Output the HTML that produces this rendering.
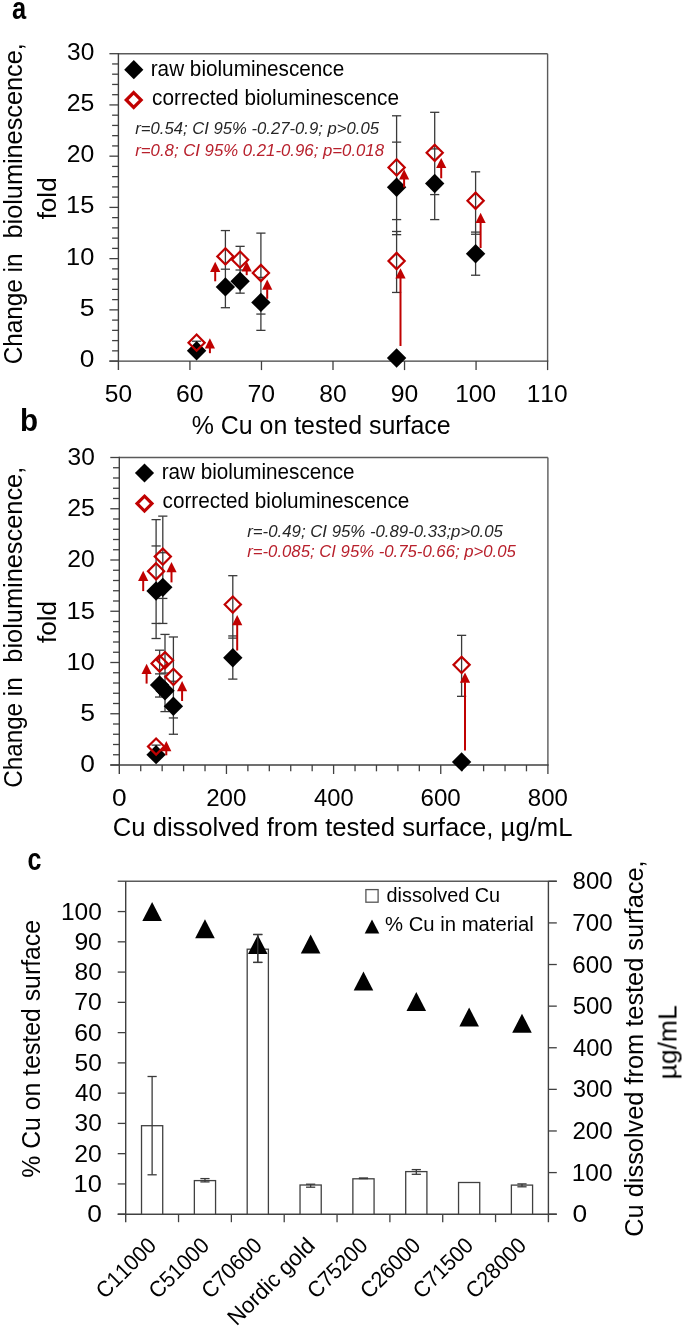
<!DOCTYPE html>
<html><head><meta charset="utf-8"><style>
html,body{margin:0;padding:0;background:#fff;overflow:hidden;width:685px;height:1328px;}
svg{display:block;}
text{font-family:"Liberation Sans", sans-serif;font-kerning:none;white-space:pre;}
</style></head><body>
<svg xml:space="preserve" width="685" height="1328" viewBox="0 0 685 1328">
<rect width="685" height="1328" fill="#fff"/>
<g opacity="0.999">
<line x1="118.40" y1="53.70" x2="547.60" y2="53.70" stroke="#5a5a5a" stroke-width="1.4"/>
<line x1="547.60" y1="53.70" x2="547.60" y2="361.10" stroke="#5a5a5a" stroke-width="1.4"/>
<line x1="118.40" y1="53.00" x2="118.40" y2="370.10" stroke="#404040" stroke-width="1.4"/>
<line x1="109.40" y1="361.10" x2="548.30" y2="361.10" stroke="#404040" stroke-width="1.4"/>
<line x1="109.40" y1="361.10" x2="118.40" y2="361.10" stroke="#404040" stroke-width="1.3"/>
<line x1="112.10" y1="350.85" x2="118.40" y2="350.85" stroke="#404040" stroke-width="1.3"/>
<line x1="112.10" y1="340.61" x2="118.40" y2="340.61" stroke="#404040" stroke-width="1.3"/>
<line x1="112.10" y1="330.36" x2="118.40" y2="330.36" stroke="#404040" stroke-width="1.3"/>
<line x1="112.10" y1="320.11" x2="118.40" y2="320.11" stroke="#404040" stroke-width="1.3"/>
<line x1="109.40" y1="309.87" x2="118.40" y2="309.87" stroke="#404040" stroke-width="1.3"/>
<line x1="112.10" y1="299.62" x2="118.40" y2="299.62" stroke="#404040" stroke-width="1.3"/>
<line x1="112.10" y1="289.37" x2="118.40" y2="289.37" stroke="#404040" stroke-width="1.3"/>
<line x1="112.10" y1="279.13" x2="118.40" y2="279.13" stroke="#404040" stroke-width="1.3"/>
<line x1="112.10" y1="268.88" x2="118.40" y2="268.88" stroke="#404040" stroke-width="1.3"/>
<line x1="109.40" y1="258.63" x2="118.40" y2="258.63" stroke="#404040" stroke-width="1.3"/>
<line x1="112.10" y1="248.39" x2="118.40" y2="248.39" stroke="#404040" stroke-width="1.3"/>
<line x1="112.10" y1="238.14" x2="118.40" y2="238.14" stroke="#404040" stroke-width="1.3"/>
<line x1="112.10" y1="227.89" x2="118.40" y2="227.89" stroke="#404040" stroke-width="1.3"/>
<line x1="112.10" y1="217.65" x2="118.40" y2="217.65" stroke="#404040" stroke-width="1.3"/>
<line x1="109.40" y1="207.40" x2="118.40" y2="207.40" stroke="#404040" stroke-width="1.3"/>
<line x1="112.10" y1="197.15" x2="118.40" y2="197.15" stroke="#404040" stroke-width="1.3"/>
<line x1="112.10" y1="186.91" x2="118.40" y2="186.91" stroke="#404040" stroke-width="1.3"/>
<line x1="112.10" y1="176.66" x2="118.40" y2="176.66" stroke="#404040" stroke-width="1.3"/>
<line x1="112.10" y1="166.41" x2="118.40" y2="166.41" stroke="#404040" stroke-width="1.3"/>
<line x1="109.40" y1="156.17" x2="118.40" y2="156.17" stroke="#404040" stroke-width="1.3"/>
<line x1="112.10" y1="145.92" x2="118.40" y2="145.92" stroke="#404040" stroke-width="1.3"/>
<line x1="112.10" y1="135.67" x2="118.40" y2="135.67" stroke="#404040" stroke-width="1.3"/>
<line x1="112.10" y1="125.43" x2="118.40" y2="125.43" stroke="#404040" stroke-width="1.3"/>
<line x1="112.10" y1="115.18" x2="118.40" y2="115.18" stroke="#404040" stroke-width="1.3"/>
<line x1="109.40" y1="104.93" x2="118.40" y2="104.93" stroke="#404040" stroke-width="1.3"/>
<line x1="112.10" y1="94.69" x2="118.40" y2="94.69" stroke="#404040" stroke-width="1.3"/>
<line x1="112.10" y1="84.44" x2="118.40" y2="84.44" stroke="#404040" stroke-width="1.3"/>
<line x1="112.10" y1="74.19" x2="118.40" y2="74.19" stroke="#404040" stroke-width="1.3"/>
<line x1="112.10" y1="63.95" x2="118.40" y2="63.95" stroke="#404040" stroke-width="1.3"/>
<line x1="109.40" y1="53.70" x2="118.40" y2="53.70" stroke="#404040" stroke-width="1.3"/>
<line x1="189.93" y1="361.10" x2="189.93" y2="370.10" stroke="#404040" stroke-width="1.3"/>
<line x1="261.47" y1="361.10" x2="261.47" y2="370.10" stroke="#404040" stroke-width="1.3"/>
<line x1="333.00" y1="361.10" x2="333.00" y2="370.10" stroke="#404040" stroke-width="1.3"/>
<line x1="404.53" y1="361.10" x2="404.53" y2="370.10" stroke="#404040" stroke-width="1.3"/>
<line x1="476.07" y1="361.10" x2="476.07" y2="370.10" stroke="#404040" stroke-width="1.3"/>
<line x1="547.60" y1="361.10" x2="547.60" y2="370.10" stroke="#404040" stroke-width="1.3"/>
<line x1="119.30" y1="457.50" x2="547.90" y2="457.50" stroke="#5a5a5a" stroke-width="1.4"/>
<line x1="547.90" y1="457.50" x2="547.90" y2="765.00" stroke="#5a5a5a" stroke-width="1.4"/>
<line x1="119.30" y1="456.80" x2="119.30" y2="774.00" stroke="#404040" stroke-width="1.4"/>
<line x1="110.30" y1="765.00" x2="548.60" y2="765.00" stroke="#404040" stroke-width="1.4"/>
<line x1="110.30" y1="765.00" x2="119.30" y2="765.00" stroke="#404040" stroke-width="1.3"/>
<line x1="113.00" y1="754.75" x2="119.30" y2="754.75" stroke="#404040" stroke-width="1.3"/>
<line x1="113.00" y1="744.50" x2="119.30" y2="744.50" stroke="#404040" stroke-width="1.3"/>
<line x1="113.00" y1="734.25" x2="119.30" y2="734.25" stroke="#404040" stroke-width="1.3"/>
<line x1="113.00" y1="724.00" x2="119.30" y2="724.00" stroke="#404040" stroke-width="1.3"/>
<line x1="110.30" y1="713.75" x2="119.30" y2="713.75" stroke="#404040" stroke-width="1.3"/>
<line x1="113.00" y1="703.50" x2="119.30" y2="703.50" stroke="#404040" stroke-width="1.3"/>
<line x1="113.00" y1="693.25" x2="119.30" y2="693.25" stroke="#404040" stroke-width="1.3"/>
<line x1="113.00" y1="683.00" x2="119.30" y2="683.00" stroke="#404040" stroke-width="1.3"/>
<line x1="113.00" y1="672.75" x2="119.30" y2="672.75" stroke="#404040" stroke-width="1.3"/>
<line x1="110.30" y1="662.50" x2="119.30" y2="662.50" stroke="#404040" stroke-width="1.3"/>
<line x1="113.00" y1="652.25" x2="119.30" y2="652.25" stroke="#404040" stroke-width="1.3"/>
<line x1="113.00" y1="642.00" x2="119.30" y2="642.00" stroke="#404040" stroke-width="1.3"/>
<line x1="113.00" y1="631.75" x2="119.30" y2="631.75" stroke="#404040" stroke-width="1.3"/>
<line x1="113.00" y1="621.50" x2="119.30" y2="621.50" stroke="#404040" stroke-width="1.3"/>
<line x1="110.30" y1="611.25" x2="119.30" y2="611.25" stroke="#404040" stroke-width="1.3"/>
<line x1="113.00" y1="601.00" x2="119.30" y2="601.00" stroke="#404040" stroke-width="1.3"/>
<line x1="113.00" y1="590.75" x2="119.30" y2="590.75" stroke="#404040" stroke-width="1.3"/>
<line x1="113.00" y1="580.50" x2="119.30" y2="580.50" stroke="#404040" stroke-width="1.3"/>
<line x1="113.00" y1="570.25" x2="119.30" y2="570.25" stroke="#404040" stroke-width="1.3"/>
<line x1="110.30" y1="560.00" x2="119.30" y2="560.00" stroke="#404040" stroke-width="1.3"/>
<line x1="113.00" y1="549.75" x2="119.30" y2="549.75" stroke="#404040" stroke-width="1.3"/>
<line x1="113.00" y1="539.50" x2="119.30" y2="539.50" stroke="#404040" stroke-width="1.3"/>
<line x1="113.00" y1="529.25" x2="119.30" y2="529.25" stroke="#404040" stroke-width="1.3"/>
<line x1="113.00" y1="519.00" x2="119.30" y2="519.00" stroke="#404040" stroke-width="1.3"/>
<line x1="110.30" y1="508.75" x2="119.30" y2="508.75" stroke="#404040" stroke-width="1.3"/>
<line x1="113.00" y1="498.50" x2="119.30" y2="498.50" stroke="#404040" stroke-width="1.3"/>
<line x1="113.00" y1="488.25" x2="119.30" y2="488.25" stroke="#404040" stroke-width="1.3"/>
<line x1="113.00" y1="478.00" x2="119.30" y2="478.00" stroke="#404040" stroke-width="1.3"/>
<line x1="113.00" y1="467.75" x2="119.30" y2="467.75" stroke="#404040" stroke-width="1.3"/>
<line x1="110.30" y1="457.50" x2="119.30" y2="457.50" stroke="#404040" stroke-width="1.3"/>
<line x1="140.73" y1="765.00" x2="140.73" y2="771.30" stroke="#404040" stroke-width="1.3"/>
<line x1="162.16" y1="765.00" x2="162.16" y2="771.30" stroke="#404040" stroke-width="1.3"/>
<line x1="183.59" y1="765.00" x2="183.59" y2="771.30" stroke="#404040" stroke-width="1.3"/>
<line x1="205.02" y1="765.00" x2="205.02" y2="771.30" stroke="#404040" stroke-width="1.3"/>
<line x1="226.45" y1="765.00" x2="226.45" y2="774.00" stroke="#404040" stroke-width="1.3"/>
<line x1="247.88" y1="765.00" x2="247.88" y2="771.30" stroke="#404040" stroke-width="1.3"/>
<line x1="269.31" y1="765.00" x2="269.31" y2="771.30" stroke="#404040" stroke-width="1.3"/>
<line x1="290.74" y1="765.00" x2="290.74" y2="771.30" stroke="#404040" stroke-width="1.3"/>
<line x1="312.17" y1="765.00" x2="312.17" y2="771.30" stroke="#404040" stroke-width="1.3"/>
<line x1="333.60" y1="765.00" x2="333.60" y2="774.00" stroke="#404040" stroke-width="1.3"/>
<line x1="355.03" y1="765.00" x2="355.03" y2="771.30" stroke="#404040" stroke-width="1.3"/>
<line x1="376.46" y1="765.00" x2="376.46" y2="771.30" stroke="#404040" stroke-width="1.3"/>
<line x1="397.89" y1="765.00" x2="397.89" y2="771.30" stroke="#404040" stroke-width="1.3"/>
<line x1="419.32" y1="765.00" x2="419.32" y2="771.30" stroke="#404040" stroke-width="1.3"/>
<line x1="440.75" y1="765.00" x2="440.75" y2="774.00" stroke="#404040" stroke-width="1.3"/>
<line x1="462.18" y1="765.00" x2="462.18" y2="771.30" stroke="#404040" stroke-width="1.3"/>
<line x1="483.61" y1="765.00" x2="483.61" y2="771.30" stroke="#404040" stroke-width="1.3"/>
<line x1="505.04" y1="765.00" x2="505.04" y2="771.30" stroke="#404040" stroke-width="1.3"/>
<line x1="526.47" y1="765.00" x2="526.47" y2="771.30" stroke="#404040" stroke-width="1.3"/>
<line x1="547.90" y1="765.00" x2="547.90" y2="774.00" stroke="#404040" stroke-width="1.3"/>
<text transform="translate(79.77,367.10) scale(1.1361,1)" font-size="23.2" font-weight="normal" font-style="normal" fill="#000">0</text>
<text transform="translate(80.27,772.40) scale(1.1361,1)" font-size="23.2" font-weight="normal" font-style="normal" fill="#000">0</text>
<text transform="translate(79.74,315.87) scale(1.1455,1)" font-size="23.2" font-weight="normal" font-style="normal" fill="#000">5</text>
<text transform="translate(80.24,721.15) scale(1.1455,1)" font-size="23.2" font-weight="normal" font-style="normal" fill="#000">5</text>
<text transform="translate(66.11,264.63) scale(1.0959,1)" font-size="23.2" font-weight="normal" font-style="normal" fill="#000">10</text>
<text transform="translate(66.61,669.90) scale(1.0959,1)" font-size="23.2" font-weight="normal" font-style="normal" fill="#000">10</text>
<text transform="translate(66.11,213.40) scale(1.0991,1)" font-size="23.2" font-weight="normal" font-style="normal" fill="#000">15</text>
<text transform="translate(66.61,618.65) scale(1.0991,1)" font-size="23.2" font-weight="normal" font-style="normal" fill="#000">15</text>
<text transform="translate(66.80,162.17) scale(1.0682,1)" font-size="23.2" font-weight="normal" font-style="normal" fill="#000">20</text>
<text transform="translate(67.30,567.40) scale(1.0682,1)" font-size="23.2" font-weight="normal" font-style="normal" fill="#000">20</text>
<text transform="translate(66.80,110.93) scale(1.0712,1)" font-size="23.2" font-weight="normal" font-style="normal" fill="#000">25</text>
<text transform="translate(67.30,516.15) scale(1.0712,1)" font-size="23.2" font-weight="normal" font-style="normal" fill="#000">25</text>
<text transform="translate(67.12,59.70) scale(1.0556,1)" font-size="23.2" font-weight="normal" font-style="normal" fill="#000">30</text>
<text transform="translate(67.62,464.90) scale(1.0556,1)" font-size="23.2" font-weight="normal" font-style="normal" fill="#000">30</text>
<text transform="translate(104.74,401.80) scale(1.0576,1)" font-size="23.2" font-weight="normal" font-style="normal" fill="#000">50</text>
<text transform="translate(176.00,401.80) scale(1.0687,1)" font-size="23.2" font-weight="normal" font-style="normal" fill="#000">60</text>
<text transform="translate(247.52,401.80) scale(1.0692,1)" font-size="23.2" font-weight="normal" font-style="normal" fill="#000">70</text>
<text transform="translate(319.26,401.80) scale(1.0611,1)" font-size="23.2" font-weight="normal" font-style="normal" fill="#000">80</text>
<text transform="translate(390.70,401.80) scale(1.0646,1)" font-size="23.2" font-weight="normal" font-style="normal" fill="#000">90</text>
<text transform="translate(455.15,401.80) scale(1.0573,1)" font-size="23.2" font-weight="normal" font-style="normal" fill="#000">100</text>
<text transform="translate(526.68,401.80) scale(1.0573,1)" font-size="23.2" font-weight="normal" font-style="normal" fill="#000">110</text>
<text transform="translate(111.97,806.30) scale(1.1361,1)" font-size="23.2" font-weight="normal" font-style="normal" fill="#000">0</text>
<text transform="translate(206.19,806.30) scale(1.0400,1)" font-size="23.2" font-weight="normal" font-style="normal" fill="#000">200</text>
<text transform="translate(314.01,806.30) scale(1.0223,1)" font-size="23.2" font-weight="normal" font-style="normal" fill="#000">400</text>
<text transform="translate(420.47,806.30) scale(1.0403,1)" font-size="23.2" font-weight="normal" font-style="normal" fill="#000">600</text>
<text transform="translate(527.81,806.30) scale(1.0355,1)" font-size="23.2" font-weight="normal" font-style="normal" fill="#000">800</text>
<text transform="translate(191.71,433.60) scale(0.9895,1)" font-size="25.2" font-weight="normal" font-style="normal" fill="#000">% Cu on tested surface</text>
<text transform="translate(112.70,836.20) scale(1.0189,1)" font-size="25.2" font-weight="normal" font-style="normal" fill="#000">Cu dissolved from tested surface, µg/mL</text>
<text transform="translate(22.40,364.34) rotate(-90) scale(0.9654,1)" font-size="25.2" fill="#000">Change in</text>
<text transform="translate(22.40,238.53) rotate(-90) scale(1.0036,1)" font-size="25.2" fill="#000">bioluminescence,</text>
<text transform="translate(56.00,219.37) rotate(-90) scale(1.0350,1)" font-size="25.2" fill="#000">fold</text>
<text transform="translate(22.30,787.83) rotate(-90) scale(0.9627,1)" font-size="25.2" fill="#000">Change in</text>
<text transform="translate(22.30,662.64) rotate(-90) scale(1.0067,1)" font-size="25.2" fill="#000">bioluminescence,</text>
<text transform="translate(56.00,642.97) rotate(-90) scale(1.0350,1)" font-size="25.2" fill="#000">fold</text>
<text transform="translate(11.95,19.30) scale(0.7971,1)" font-size="32" font-weight="bold" font-style="normal" fill="#000">a</text>
<text transform="translate(19.95,430.50) scale(0.9240,1)" font-size="32" font-weight="bold" font-style="normal" fill="#000">b</text>
<text transform="translate(27.52,869.80) scale(0.7816,1)" font-size="32" font-weight="bold" font-style="normal" fill="#000">c</text>
<polygon points="133.80,60.10 143.40,69.70 133.80,79.30 124.20,69.70" fill="#000"/>
<polygon points="133.70,92.55 141.15,100.00 133.70,107.45 126.25,100.00" fill="none" stroke="#c00000" stroke-width="3.2" stroke-linejoin="miter"/>
<text transform="translate(150.72,75.70) scale(0.9598,1)" font-size="21.6" font-weight="normal" font-style="normal" fill="#000">raw bioluminescence</text>
<text transform="translate(152.12,104.50) scale(0.9614,1)" font-size="21.6" font-weight="normal" font-style="normal" fill="#000">corrected bioluminescence</text>
<polygon points="144.50,463.40 154.10,473.00 144.50,482.60 134.90,473.00" fill="#000"/>
<polygon points="144.50,496.15 151.95,503.60 144.50,511.05 137.05,503.60" fill="none" stroke="#c00000" stroke-width="3.2" stroke-linejoin="miter"/>
<text transform="translate(161.63,478.70) scale(0.9573,1)" font-size="21.6" font-weight="normal" font-style="normal" fill="#000">raw bioluminescence</text>
<text transform="translate(162.52,507.60) scale(0.9610,1)" font-size="21.6" font-weight="normal" font-style="normal" fill="#000">corrected bioluminescence</text>
<text transform="translate(135.22,133.80) scale(1.0432,1)" font-size="16.0" font-weight="normal" font-style="italic" fill="#262626">r=0.54; CI 95% -0.27-0.9; p&gt;0.05</text>
<text transform="translate(135.22,155.80) scale(1.0487,1)" font-size="16.0" font-weight="normal" font-style="italic" fill="#b8202c">r=0.8; CI 95% 0.21-0.96; p=0.018</text>
<text transform="translate(247.22,536.80) scale(1.0502,1)" font-size="16.0" font-weight="normal" font-style="italic" fill="#262626">r=-0.49; CI 95% -0.89-0.33;p&gt;0.05</text>
<text transform="translate(247.22,557.40) scale(1.0458,1)" font-size="16.0" font-weight="normal" font-style="italic" fill="#b8202c">r=-0.085; CI 95% -0.75-0.66; p&gt;0.05</text>
<line x1="196.60" y1="341.22" x2="196.60" y2="350.75" stroke="#3a3a3a" stroke-width="1.3"/>
<line x1="192.00" y1="341.22" x2="201.20" y2="341.22" stroke="#3a3a3a" stroke-width="1.3"/>
<line x1="225.40" y1="230.56" x2="225.40" y2="307.71" stroke="#3a3a3a" stroke-width="1.3"/>
<line x1="220.80" y1="230.56" x2="230.00" y2="230.56" stroke="#3a3a3a" stroke-width="1.3"/>
<line x1="220.80" y1="269.19" x2="230.00" y2="269.19" stroke="#3a3a3a" stroke-width="1.3"/>
<line x1="220.80" y1="307.71" x2="230.00" y2="307.71" stroke="#3a3a3a" stroke-width="1.3"/>
<line x1="240.10" y1="246.34" x2="240.10" y2="293.16" stroke="#3a3a3a" stroke-width="1.3"/>
<line x1="235.50" y1="246.34" x2="244.70" y2="246.34" stroke="#3a3a3a" stroke-width="1.3"/>
<line x1="235.50" y1="270.01" x2="244.70" y2="270.01" stroke="#3a3a3a" stroke-width="1.3"/>
<line x1="235.50" y1="293.16" x2="244.70" y2="293.16" stroke="#3a3a3a" stroke-width="1.3"/>
<line x1="260.90" y1="233.12" x2="260.90" y2="330.36" stroke="#3a3a3a" stroke-width="1.3"/>
<line x1="256.30" y1="233.12" x2="265.50" y2="233.12" stroke="#3a3a3a" stroke-width="1.3"/>
<line x1="256.30" y1="277.38" x2="265.50" y2="277.38" stroke="#3a3a3a" stroke-width="1.3"/>
<line x1="256.30" y1="314.07" x2="265.50" y2="314.07" stroke="#3a3a3a" stroke-width="1.3"/>
<line x1="256.30" y1="330.36" x2="265.50" y2="330.36" stroke="#3a3a3a" stroke-width="1.3"/>
<line x1="396.60" y1="115.79" x2="396.60" y2="234.66" stroke="#3a3a3a" stroke-width="1.3"/>
<line x1="392.00" y1="115.79" x2="401.20" y2="115.79" stroke="#3a3a3a" stroke-width="1.3"/>
<line x1="392.00" y1="142.13" x2="401.20" y2="142.13" stroke="#3a3a3a" stroke-width="1.3"/>
<line x1="392.00" y1="219.59" x2="401.20" y2="219.59" stroke="#3a3a3a" stroke-width="1.3"/>
<line x1="392.00" y1="234.66" x2="401.20" y2="234.66" stroke="#3a3a3a" stroke-width="1.3"/>
<line x1="396.60" y1="231.48" x2="396.60" y2="292.45" stroke="#3a3a3a" stroke-width="1.3"/>
<line x1="392.00" y1="231.48" x2="401.20" y2="231.48" stroke="#3a3a3a" stroke-width="1.3"/>
<line x1="392.00" y1="292.45" x2="401.20" y2="292.45" stroke="#3a3a3a" stroke-width="1.3"/>
<line x1="434.70" y1="112.31" x2="434.70" y2="219.59" stroke="#3a3a3a" stroke-width="1.3"/>
<line x1="430.10" y1="112.31" x2="439.30" y2="112.31" stroke="#3a3a3a" stroke-width="1.3"/>
<line x1="430.10" y1="148.89" x2="439.30" y2="148.89" stroke="#3a3a3a" stroke-width="1.3"/>
<line x1="430.10" y1="194.59" x2="439.30" y2="194.59" stroke="#3a3a3a" stroke-width="1.3"/>
<line x1="430.10" y1="219.59" x2="439.30" y2="219.59" stroke="#3a3a3a" stroke-width="1.3"/>
<line x1="475.60" y1="171.84" x2="475.60" y2="275.23" stroke="#3a3a3a" stroke-width="1.3"/>
<line x1="471.00" y1="171.84" x2="480.20" y2="171.84" stroke="#3a3a3a" stroke-width="1.3"/>
<line x1="471.00" y1="232.09" x2="480.20" y2="232.09" stroke="#3a3a3a" stroke-width="1.3"/>
<line x1="471.00" y1="234.25" x2="480.20" y2="234.25" stroke="#3a3a3a" stroke-width="1.3"/>
<line x1="471.00" y1="275.23" x2="480.20" y2="275.23" stroke="#3a3a3a" stroke-width="1.3"/>
<polygon points="196.60,341.05 206.30,350.75 196.60,360.45 186.90,350.75" fill="#000"/>
<polygon points="225.40,277.21 235.10,286.91 225.40,296.61 215.70,286.91" fill="#000"/>
<polygon points="240.10,271.48 249.80,281.18 240.10,290.88 230.40,281.18" fill="#000"/>
<polygon points="260.90,292.69 270.60,302.39 260.90,312.09 251.20,302.39" fill="#000"/>
<polygon points="396.60,177.51 406.30,187.21 396.60,196.91 386.90,187.21" fill="#000"/>
<polygon points="396.60,348.33 406.30,358.03 396.60,367.73 386.90,358.03" fill="#000"/>
<polygon points="434.70,173.83 444.40,183.53 434.70,193.23 425.00,183.53" fill="#000"/>
<polygon points="475.60,244.12 485.30,253.82 475.60,263.52 465.90,253.82" fill="#000"/>
<polygon points="196.60,334.56 204.70,342.66 196.60,350.76 188.50,342.66" fill="none" stroke="#c00000" stroke-width="2.2" stroke-linejoin="miter"/>
<polygon points="225.40,248.28 233.50,256.38 225.40,264.48 217.30,256.38" fill="none" stroke="#c00000" stroke-width="2.2" stroke-linejoin="miter"/>
<polygon points="240.10,251.56 248.20,259.66 240.10,267.76 232.00,259.66" fill="none" stroke="#c00000" stroke-width="2.2" stroke-linejoin="miter"/>
<polygon points="260.90,264.88 269.00,272.98 260.90,281.08 252.80,272.98" fill="none" stroke="#c00000" stroke-width="2.2" stroke-linejoin="miter"/>
<polygon points="396.60,159.34 404.70,167.44 396.60,175.54 388.50,167.44" fill="none" stroke="#c00000" stroke-width="2.2" stroke-linejoin="miter"/>
<polygon points="396.60,252.89 404.70,260.99 396.60,269.09 388.50,260.99" fill="none" stroke="#c00000" stroke-width="2.2" stroke-linejoin="miter"/>
<polygon points="434.70,144.69 442.80,152.79 434.70,160.89 426.60,152.79" fill="none" stroke="#c00000" stroke-width="2.2" stroke-linejoin="miter"/>
<polygon points="475.60,192.64 483.70,200.74 475.60,208.84 467.50,200.74" fill="none" stroke="#c00000" stroke-width="2.2" stroke-linejoin="miter"/>
<line x1="209.90" y1="347.90" x2="209.90" y2="353.20" stroke="#c00000" stroke-width="2"/>
<polygon points="209.90,338.20 215.00,348.40 204.80,348.40" fill="#c00000"/>
<line x1="215.20" y1="271.40" x2="215.20" y2="281.30" stroke="#c00000" stroke-width="2"/>
<polygon points="215.20,261.70 220.30,271.90 210.10,271.90" fill="#c00000"/>
<line x1="246.70" y1="270.90" x2="246.70" y2="275.20" stroke="#c00000" stroke-width="2"/>
<polygon points="246.70,261.20 251.80,271.40 241.60,271.40" fill="#c00000"/>
<line x1="267.20" y1="289.30" x2="267.20" y2="298.80" stroke="#c00000" stroke-width="2"/>
<polygon points="267.20,279.60 272.30,289.80 262.10,289.80" fill="#c00000"/>
<line x1="404.10" y1="179.00" x2="404.10" y2="187.40" stroke="#c00000" stroke-width="2"/>
<polygon points="404.10,169.30 409.20,179.50 399.00,179.50" fill="#c00000"/>
<line x1="400.50" y1="278.00" x2="400.50" y2="346.00" stroke="#c00000" stroke-width="2"/>
<polygon points="400.50,268.30 405.60,278.50 395.40,278.50" fill="#c00000"/>
<line x1="441.20" y1="167.60" x2="441.20" y2="178.30" stroke="#c00000" stroke-width="2"/>
<polygon points="441.20,157.90 446.30,168.10 436.10,168.10" fill="#c00000"/>
<line x1="480.60" y1="222.50" x2="480.60" y2="248.00" stroke="#c00000" stroke-width="2"/>
<polygon points="480.60,212.80 485.70,223.00 475.50,223.00" fill="#c00000"/>
<line x1="156.10" y1="745.12" x2="156.10" y2="754.65" stroke="#3a3a3a" stroke-width="1.3"/>
<line x1="151.50" y1="745.12" x2="160.70" y2="745.12" stroke="#3a3a3a" stroke-width="1.3"/>
<line x1="165.00" y1="634.41" x2="165.00" y2="711.60" stroke="#3a3a3a" stroke-width="1.3"/>
<line x1="160.40" y1="634.41" x2="169.60" y2="634.41" stroke="#3a3a3a" stroke-width="1.3"/>
<line x1="160.40" y1="673.06" x2="169.60" y2="673.06" stroke="#3a3a3a" stroke-width="1.3"/>
<line x1="160.40" y1="711.60" x2="169.60" y2="711.60" stroke="#3a3a3a" stroke-width="1.3"/>
<line x1="159.60" y1="650.20" x2="159.60" y2="697.04" stroke="#3a3a3a" stroke-width="1.3"/>
<line x1="155.00" y1="650.20" x2="164.20" y2="650.20" stroke="#3a3a3a" stroke-width="1.3"/>
<line x1="155.00" y1="673.88" x2="164.20" y2="673.88" stroke="#3a3a3a" stroke-width="1.3"/>
<line x1="155.00" y1="697.04" x2="164.20" y2="697.04" stroke="#3a3a3a" stroke-width="1.3"/>
<line x1="173.40" y1="636.98" x2="173.40" y2="734.25" stroke="#3a3a3a" stroke-width="1.3"/>
<line x1="168.80" y1="636.98" x2="178.00" y2="636.98" stroke="#3a3a3a" stroke-width="1.3"/>
<line x1="168.80" y1="681.26" x2="178.00" y2="681.26" stroke="#3a3a3a" stroke-width="1.3"/>
<line x1="168.80" y1="717.95" x2="178.00" y2="717.95" stroke="#3a3a3a" stroke-width="1.3"/>
<line x1="168.80" y1="734.25" x2="178.00" y2="734.25" stroke="#3a3a3a" stroke-width="1.3"/>
<line x1="156.10" y1="519.62" x2="156.10" y2="638.51" stroke="#3a3a3a" stroke-width="1.3"/>
<line x1="151.50" y1="519.62" x2="160.70" y2="519.62" stroke="#3a3a3a" stroke-width="1.3"/>
<line x1="151.50" y1="545.96" x2="160.70" y2="545.96" stroke="#3a3a3a" stroke-width="1.3"/>
<line x1="151.50" y1="623.45" x2="160.70" y2="623.45" stroke="#3a3a3a" stroke-width="1.3"/>
<line x1="151.50" y1="638.51" x2="160.70" y2="638.51" stroke="#3a3a3a" stroke-width="1.3"/>
<line x1="461.60" y1="635.34" x2="461.60" y2="696.33" stroke="#3a3a3a" stroke-width="1.3"/>
<line x1="457.00" y1="635.34" x2="466.20" y2="635.34" stroke="#3a3a3a" stroke-width="1.3"/>
<line x1="457.00" y1="696.33" x2="466.20" y2="696.33" stroke="#3a3a3a" stroke-width="1.3"/>
<line x1="162.80" y1="516.13" x2="162.80" y2="623.45" stroke="#3a3a3a" stroke-width="1.3"/>
<line x1="158.20" y1="516.13" x2="167.40" y2="516.13" stroke="#3a3a3a" stroke-width="1.3"/>
<line x1="158.20" y1="552.72" x2="167.40" y2="552.72" stroke="#3a3a3a" stroke-width="1.3"/>
<line x1="158.20" y1="598.44" x2="167.40" y2="598.44" stroke="#3a3a3a" stroke-width="1.3"/>
<line x1="158.20" y1="623.45" x2="167.40" y2="623.45" stroke="#3a3a3a" stroke-width="1.3"/>
<line x1="232.80" y1="575.68" x2="232.80" y2="679.11" stroke="#3a3a3a" stroke-width="1.3"/>
<line x1="228.20" y1="575.68" x2="237.40" y2="575.68" stroke="#3a3a3a" stroke-width="1.3"/>
<line x1="228.20" y1="635.95" x2="237.40" y2="635.95" stroke="#3a3a3a" stroke-width="1.3"/>
<line x1="228.20" y1="638.11" x2="237.40" y2="638.11" stroke="#3a3a3a" stroke-width="1.3"/>
<line x1="228.20" y1="679.11" x2="237.40" y2="679.11" stroke="#3a3a3a" stroke-width="1.3"/>
<polygon points="156.10,744.95 165.80,754.65 156.10,764.35 146.40,754.65" fill="#000"/>
<polygon points="165.00,681.09 174.70,690.79 165.00,700.49 155.30,690.79" fill="#000"/>
<polygon points="159.60,675.35 169.30,685.05 159.60,694.75 149.90,685.05" fill="#000"/>
<polygon points="173.40,696.57 183.10,706.27 173.40,715.97 163.70,706.27" fill="#000"/>
<polygon points="156.10,581.36 165.80,591.06 156.10,600.76 146.40,591.06" fill="#000"/>
<polygon points="461.60,752.22 471.30,761.92 461.60,771.62 451.90,761.92" fill="#000"/>
<polygon points="162.80,577.67 172.50,587.37 162.80,597.07 153.10,587.37" fill="#000"/>
<polygon points="232.80,647.98 242.50,657.68 232.80,667.38 223.10,657.68" fill="#000"/>
<polygon points="156.10,738.45 164.20,746.55 156.10,754.65 148.00,746.55" fill="none" stroke="#c00000" stroke-width="2.2" stroke-linejoin="miter"/>
<polygon points="165.00,652.14 173.10,660.25 165.00,668.35 156.90,660.25" fill="none" stroke="#c00000" stroke-width="2.2" stroke-linejoin="miter"/>
<polygon points="159.60,655.42 167.70,663.52 159.60,671.62 151.50,663.52" fill="none" stroke="#c00000" stroke-width="2.2" stroke-linejoin="miter"/>
<polygon points="173.40,668.75 181.50,676.85 173.40,684.95 165.30,676.85" fill="none" stroke="#c00000" stroke-width="2.2" stroke-linejoin="miter"/>
<polygon points="156.10,563.17 164.20,571.27 156.10,579.38 148.00,571.27" fill="none" stroke="#c00000" stroke-width="2.2" stroke-linejoin="miter"/>
<polygon points="461.60,656.76 469.70,664.86 461.60,672.96 453.50,664.86" fill="none" stroke="#c00000" stroke-width="2.2" stroke-linejoin="miter"/>
<polygon points="162.80,548.52 170.90,556.62 162.80,564.72 154.70,556.62" fill="none" stroke="#c00000" stroke-width="2.2" stroke-linejoin="miter"/>
<polygon points="232.80,596.49 240.90,604.59 232.80,612.69 224.70,604.59" fill="none" stroke="#c00000" stroke-width="2.2" stroke-linejoin="miter"/>
<line x1="166.30" y1="750.70" x2="166.30" y2="755.30" stroke="#c00000" stroke-width="2"/>
<polygon points="166.30,741.00 171.40,751.20 161.20,751.20" fill="#c00000"/>
<line x1="146.60" y1="673.40" x2="146.60" y2="683.60" stroke="#c00000" stroke-width="2"/>
<polygon points="146.60,663.70 151.70,673.90 141.50,673.90" fill="#c00000"/>
<line x1="182.10" y1="690.80" x2="182.10" y2="701.00" stroke="#c00000" stroke-width="2"/>
<polygon points="182.10,681.10 187.20,691.30 177.00,691.30" fill="#c00000"/>
<line x1="143.20" y1="580.40" x2="143.20" y2="591.10" stroke="#c00000" stroke-width="2"/>
<polygon points="143.20,570.70 148.30,580.90 138.10,580.90" fill="#c00000"/>
<line x1="465.00" y1="682.20" x2="465.00" y2="750.50" stroke="#c00000" stroke-width="2"/>
<polygon points="465.00,672.50 470.10,682.70 459.90,682.70" fill="#c00000"/>
<line x1="171.50" y1="571.70" x2="171.50" y2="582.40" stroke="#c00000" stroke-width="2"/>
<polygon points="171.50,562.00 176.60,572.20 166.40,572.20" fill="#c00000"/>
<line x1="237.20" y1="624.70" x2="237.20" y2="650.50" stroke="#c00000" stroke-width="2"/>
<polygon points="237.20,615.00 242.30,625.20 232.10,625.20" fill="#c00000"/>
<line x1="117.70" y1="881.30" x2="556.80" y2="881.30" stroke="#5a5a5a" stroke-width="1.4"/>
<line x1="117.70" y1="1214.20" x2="556.80" y2="1214.20" stroke="#404040" stroke-width="1.4"/>
<line x1="125.70" y1="881.30" x2="125.70" y2="1222.20" stroke="#404040" stroke-width="1.4"/>
<line x1="548.40" y1="881.30" x2="548.40" y2="1222.20" stroke="#404040" stroke-width="1.4"/>
<line x1="117.70" y1="1214.20" x2="125.70" y2="1214.20" stroke="#404040" stroke-width="1.3"/>
<text transform="translate(87.27,1222.20) scale(1.1361,1)" font-size="23.2" font-weight="normal" font-style="normal" fill="#000">0</text>
<line x1="117.70" y1="1183.94" x2="125.70" y2="1183.94" stroke="#404040" stroke-width="1.3"/>
<text transform="translate(73.61,1191.94) scale(1.0959,1)" font-size="23.2" font-weight="normal" font-style="normal" fill="#000">10</text>
<line x1="117.70" y1="1153.67" x2="125.70" y2="1153.67" stroke="#404040" stroke-width="1.3"/>
<text transform="translate(74.30,1161.67) scale(1.0682,1)" font-size="23.2" font-weight="normal" font-style="normal" fill="#000">20</text>
<line x1="117.70" y1="1123.41" x2="125.70" y2="1123.41" stroke="#404040" stroke-width="1.3"/>
<text transform="translate(74.62,1131.41) scale(1.0556,1)" font-size="23.2" font-weight="normal" font-style="normal" fill="#000">30</text>
<line x1="117.70" y1="1093.15" x2="125.70" y2="1093.15" stroke="#404040" stroke-width="1.3"/>
<text transform="translate(75.00,1101.15) scale(1.0404,1)" font-size="23.2" font-weight="normal" font-style="normal" fill="#000">40</text>
<line x1="117.70" y1="1062.88" x2="125.70" y2="1062.88" stroke="#404040" stroke-width="1.3"/>
<text transform="translate(74.57,1070.88) scale(1.0576,1)" font-size="23.2" font-weight="normal" font-style="normal" fill="#000">50</text>
<line x1="117.70" y1="1032.62" x2="125.70" y2="1032.62" stroke="#404040" stroke-width="1.3"/>
<text transform="translate(74.29,1040.62) scale(1.0687,1)" font-size="23.2" font-weight="normal" font-style="normal" fill="#000">60</text>
<line x1="117.70" y1="1002.35" x2="125.70" y2="1002.35" stroke="#404040" stroke-width="1.3"/>
<text transform="translate(74.28,1010.35) scale(1.0692,1)" font-size="23.2" font-weight="normal" font-style="normal" fill="#000">70</text>
<line x1="117.70" y1="972.09" x2="125.70" y2="972.09" stroke="#404040" stroke-width="1.3"/>
<text transform="translate(74.48,980.09) scale(1.0611,1)" font-size="23.2" font-weight="normal" font-style="normal" fill="#000">80</text>
<line x1="117.70" y1="941.83" x2="125.70" y2="941.83" stroke="#404040" stroke-width="1.3"/>
<text transform="translate(74.39,949.83) scale(1.0646,1)" font-size="23.2" font-weight="normal" font-style="normal" fill="#000">90</text>
<line x1="117.70" y1="911.56" x2="125.70" y2="911.56" stroke="#404040" stroke-width="1.3"/>
<text transform="translate(60.93,919.56) scale(1.0573,1)" font-size="23.2" font-weight="normal" font-style="normal" fill="#000">100</text>
<line x1="548.40" y1="1214.20" x2="556.80" y2="1214.20" stroke="#404040" stroke-width="1.3"/>
<text transform="translate(572.57,1222.20) scale(1.1361,1)" font-size="23.2" font-weight="normal" font-style="normal" fill="#000">0</text>
<line x1="548.40" y1="1172.59" x2="556.80" y2="1172.59" stroke="#404040" stroke-width="1.3"/>
<text transform="translate(571.73,1180.59) scale(1.0573,1)" font-size="23.2" font-weight="normal" font-style="normal" fill="#000">100</text>
<line x1="548.40" y1="1130.97" x2="556.80" y2="1130.97" stroke="#404040" stroke-width="1.3"/>
<text transform="translate(572.39,1138.97) scale(1.0400,1)" font-size="23.2" font-weight="normal" font-style="normal" fill="#000">200</text>
<line x1="548.40" y1="1089.36" x2="556.80" y2="1089.36" stroke="#404040" stroke-width="1.3"/>
<text transform="translate(572.69,1097.36) scale(1.0320,1)" font-size="23.2" font-weight="normal" font-style="normal" fill="#000">300</text>
<line x1="548.40" y1="1047.75" x2="556.80" y2="1047.75" stroke="#404040" stroke-width="1.3"/>
<text transform="translate(573.06,1055.75) scale(1.0223,1)" font-size="23.2" font-weight="normal" font-style="normal" fill="#000">400</text>
<line x1="548.40" y1="1006.14" x2="556.80" y2="1006.14" stroke="#404040" stroke-width="1.3"/>
<text transform="translate(572.64,1014.14) scale(1.0333,1)" font-size="23.2" font-weight="normal" font-style="normal" fill="#000">500</text>
<line x1="548.40" y1="964.52" x2="556.80" y2="964.52" stroke="#404040" stroke-width="1.3"/>
<text transform="translate(572.37,972.52) scale(1.0403,1)" font-size="23.2" font-weight="normal" font-style="normal" fill="#000">600</text>
<line x1="548.40" y1="922.91" x2="556.80" y2="922.91" stroke="#404040" stroke-width="1.3"/>
<text transform="translate(572.36,930.91) scale(1.0406,1)" font-size="23.2" font-weight="normal" font-style="normal" fill="#000">700</text>
<line x1="548.40" y1="881.30" x2="556.80" y2="881.30" stroke="#404040" stroke-width="1.3"/>
<text transform="translate(572.56,889.30) scale(1.0355,1)" font-size="23.2" font-weight="normal" font-style="normal" fill="#000">800</text>
<line x1="178.54" y1="1214.20" x2="178.54" y2="1222.20" stroke="#404040" stroke-width="1.3"/>
<line x1="231.38" y1="1214.20" x2="231.38" y2="1222.20" stroke="#404040" stroke-width="1.3"/>
<line x1="284.21" y1="1214.20" x2="284.21" y2="1222.20" stroke="#404040" stroke-width="1.3"/>
<line x1="337.05" y1="1214.20" x2="337.05" y2="1222.20" stroke="#404040" stroke-width="1.3"/>
<line x1="389.89" y1="1214.20" x2="389.89" y2="1222.20" stroke="#404040" stroke-width="1.3"/>
<line x1="442.72" y1="1214.20" x2="442.72" y2="1222.20" stroke="#404040" stroke-width="1.3"/>
<line x1="495.56" y1="1214.20" x2="495.56" y2="1222.20" stroke="#404040" stroke-width="1.3"/>
<rect x="141.52" y="1125.70" width="21.2" height="88.50" fill="#fff" stroke="#404040" stroke-width="1.3"/>
<rect x="194.36" y="1180.60" width="21.2" height="33.60" fill="#fff" stroke="#404040" stroke-width="1.3"/>
<rect x="247.19" y="949.20" width="21.2" height="265.00" fill="#fff" stroke="#404040" stroke-width="1.3"/>
<rect x="300.03" y="1185.00" width="21.2" height="29.20" fill="#fff" stroke="#404040" stroke-width="1.3"/>
<rect x="352.87" y="1178.80" width="21.2" height="35.40" fill="#fff" stroke="#404040" stroke-width="1.3"/>
<rect x="405.71" y="1171.60" width="21.2" height="42.60" fill="#fff" stroke="#404040" stroke-width="1.3"/>
<rect x="458.54" y="1182.50" width="21.2" height="31.70" fill="#fff" stroke="#404040" stroke-width="1.3"/>
<rect x="511.38" y="1185.10" width="21.2" height="29.10" fill="#fff" stroke="#404040" stroke-width="1.3"/>
<line x1="152.12" y1="1076.50" x2="152.12" y2="1174.80" stroke="#3a3a3a" stroke-width="1.3"/>
<line x1="147.52" y1="1076.50" x2="156.72" y2="1076.50" stroke="#3a3a3a" stroke-width="1.3"/>
<line x1="147.52" y1="1174.80" x2="156.72" y2="1174.80" stroke="#3a3a3a" stroke-width="1.3"/>
<line x1="204.96" y1="1178.60" x2="204.96" y2="1181.90" stroke="#3a3a3a" stroke-width="1.3"/>
<line x1="200.36" y1="1178.60" x2="209.56" y2="1178.60" stroke="#3a3a3a" stroke-width="1.3"/>
<line x1="200.36" y1="1181.90" x2="209.56" y2="1181.90" stroke="#3a3a3a" stroke-width="1.3"/>
<line x1="257.79" y1="934.50" x2="257.79" y2="962.40" stroke="#3a3a3a" stroke-width="1.3"/>
<line x1="253.19" y1="934.50" x2="262.39" y2="934.50" stroke="#3a3a3a" stroke-width="1.3"/>
<line x1="253.19" y1="962.40" x2="262.39" y2="962.40" stroke="#3a3a3a" stroke-width="1.3"/>
<line x1="310.63" y1="1184.20" x2="310.63" y2="1187.20" stroke="#3a3a3a" stroke-width="1.3"/>
<line x1="306.03" y1="1184.20" x2="315.23" y2="1184.20" stroke="#3a3a3a" stroke-width="1.3"/>
<line x1="306.03" y1="1187.20" x2="315.23" y2="1187.20" stroke="#3a3a3a" stroke-width="1.3"/>
<line x1="363.47" y1="1178.00" x2="363.47" y2="1178.60" stroke="#3a3a3a" stroke-width="1.3"/>
<line x1="358.87" y1="1178.00" x2="368.07" y2="1178.00" stroke="#3a3a3a" stroke-width="1.3"/>
<line x1="358.87" y1="1178.60" x2="368.07" y2="1178.60" stroke="#3a3a3a" stroke-width="1.3"/>
<line x1="416.31" y1="1169.60" x2="416.31" y2="1174.30" stroke="#3a3a3a" stroke-width="1.3"/>
<line x1="411.71" y1="1169.60" x2="420.91" y2="1169.60" stroke="#3a3a3a" stroke-width="1.3"/>
<line x1="411.71" y1="1174.30" x2="420.91" y2="1174.30" stroke="#3a3a3a" stroke-width="1.3"/>
<line x1="521.98" y1="1183.90" x2="521.98" y2="1186.80" stroke="#3a3a3a" stroke-width="1.3"/>
<line x1="517.38" y1="1183.90" x2="526.58" y2="1183.90" stroke="#3a3a3a" stroke-width="1.3"/>
<line x1="517.38" y1="1186.80" x2="526.58" y2="1186.80" stroke="#3a3a3a" stroke-width="1.3"/>
<polygon points="152.12,902.10 161.92,921.10 142.32,921.10" fill="#000"/>
<polygon points="204.96,919.30 214.76,938.30 195.16,938.30" fill="#000"/>
<polygon points="257.79,934.90 267.59,953.90 247.99,953.90" fill="#000"/>
<polygon points="310.63,934.60 320.43,953.60 300.83,953.60" fill="#000"/>
<polygon points="363.47,971.40 373.27,990.40 353.67,990.40" fill="#000"/>
<polygon points="416.31,992.10 426.11,1011.10 406.51,1011.10" fill="#000"/>
<polygon points="469.14,1007.50 478.94,1026.50 459.34,1026.50" fill="#000"/>
<polygon points="521.98,1013.70 531.78,1032.70 512.18,1032.70" fill="#000"/>
<line x1="253.19" y1="934.50" x2="262.39" y2="934.50" stroke="#3a3a3a" stroke-width="1.3"/>
<line x1="257.79" y1="934.50" x2="257.79" y2="962.40" stroke="#3a3a3a" stroke-width="1.3"/>
<line x1="253.19" y1="962.40" x2="262.39" y2="962.40" stroke="#3a3a3a" stroke-width="1.3"/>
<text transform="translate(157.72,1246.90) rotate(-45) scale(0.9470,1)" font-size="22.5" text-anchor="end" fill="#000">C11000</text>
<text transform="translate(210.56,1246.90) rotate(-45) scale(0.9470,1)" font-size="22.5" text-anchor="end" fill="#000">C51000</text>
<text transform="translate(263.39,1246.90) rotate(-45) scale(0.9470,1)" font-size="22.5" text-anchor="end" fill="#000">C70600</text>
<text transform="translate(316.23,1246.90) rotate(-45) scale(0.9910,1)" font-size="22.5" text-anchor="end" fill="#000">Nordic gold</text>
<text transform="translate(369.07,1246.90) rotate(-45) scale(0.9470,1)" font-size="22.5" text-anchor="end" fill="#000">C75200</text>
<text transform="translate(421.91,1246.90) rotate(-45) scale(0.9470,1)" font-size="22.5" text-anchor="end" fill="#000">C26000</text>
<text transform="translate(474.74,1246.90) rotate(-45) scale(0.9470,1)" font-size="22.5" text-anchor="end" fill="#000">C71500</text>
<text transform="translate(527.58,1246.90) rotate(-45) scale(0.9470,1)" font-size="22.5" text-anchor="end" fill="#000">C28000</text>
<text transform="translate(40.10,1177.78) rotate(-90) scale(0.9845,1)" font-size="25.2" fill="#000">% Cu on tested surface</text>
<text transform="translate(642.80,1236.69) rotate(-90) scale(1.0070,1)" font-size="25.2" fill="#000">Cu dissolved from tested surface,</text>
<text transform="translate(676.50,1079.41) rotate(-90) scale(1.0517,1)" font-size="25.2" fill="#000">µg/mL</text>
<rect x="365.9" y="889.6" width="12.2" height="12.6" fill="#fff" stroke="#555" stroke-width="1.3"/>
<polygon points="372.00,919.50 379.30,933.50 364.70,933.50" fill="#000"/>
<text transform="translate(386.57,902.30) scale(1.0286,1)" font-size="19.3" font-weight="normal" font-style="normal" fill="#000">dissolved Cu</text>
<text transform="translate(384.98,930.50) scale(1.0515,1)" font-size="19.3" font-weight="normal" font-style="normal" fill="#000">% Cu in material</text>
</g>
</svg>
</body></html>
